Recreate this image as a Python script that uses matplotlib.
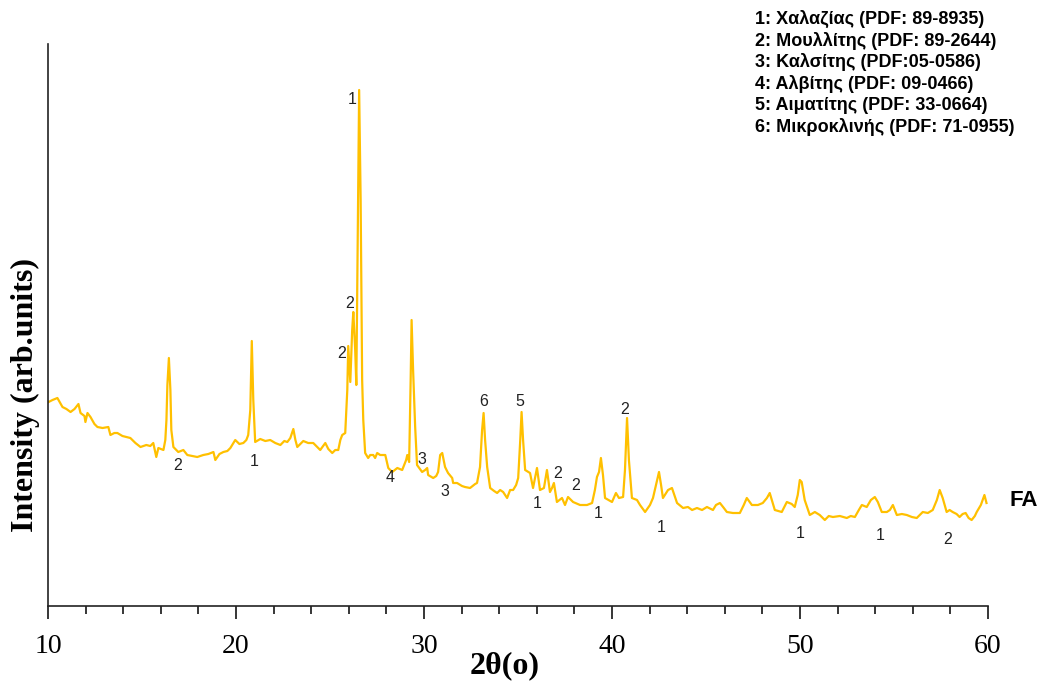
#!/usr/bin/env python3
"""
XRD pattern of fly ash (FA) with phase identification.
"""

import matplotlib.pyplot as plt
from matplotlib.ticker import MultipleLocator

# Diffraction pattern, 2theta (deg) vs intensity (arb. units)
two_theta = [
    10.03, 10.24, 10.50, 10.77, 10.98, 11.20, 11.41, 11.62, 11.73, 11.94, 11.99, 12.10, 12.26, 12.47, 12.63, 12.90, 13.21, 13.32,
    13.53, 13.69, 13.96, 14.17, 14.38, 14.65, 14.92, 15.23, 15.44, 15.60, 15.76, 15.87, 16.14, 16.24, 16.30, 16.35, 16.43, 16.51, 16.56,
    16.67, 16.93, 17.20, 17.41, 17.68, 17.94, 18.26, 18.53, 18.80, 18.90, 19.12, 19.33, 19.54, 19.70, 19.96, 20.18, 20.39, 20.55, 20.65,
    20.76, 20.84, 20.92, 21.02, 21.29, 21.56, 21.82, 22.09, 22.36, 22.57, 22.73, 22.89, 23.05, 23.16, 23.26, 23.42, 23.58, 23.84, 24.11,
    24.32, 24.48, 24.75, 24.91, 25.12, 25.28, 25.44,
    25.55, 25.65, 25.81, 25.92, 25.97, 26.08, 26.18, 26.24, 26.34, 26.40, 26.47, 26.55, 26.63, 26.71, 26.77, 26.87, 27.03, 27.14, 27.30,
    27.40, 27.51, 27.67, 27.94,
    28.10, 28.31, 28.58, 28.84, 29.05, 29.11, 29.21, 29.29, 29.34, 29.42, 29.53, 29.63, 29.90, 30.06, 30.17, 30.22, 30.49,
    30.65, 30.75, 30.86, 30.97, 31.12, 31.28, 31.50, 31.55, 31.76, 32.02, 32.18, 32.45, 32.72, 32.82, 32.98,
    33.09, 33.17, 33.25, 33.36, 33.52, 33.73, 33.89, 34.05, 34.21, 34.42, 34.58, 34.74, 34.90, 35.01, 35.12, 35.19, 35.27, 35.38,
    35.64, 35.80, 36.01, 36.17, 36.38, 36.54, 36.70, 36.81, 36.91, 37.07, 37.34, 37.50, 37.66, 37.93, 38.30, 38.67, 38.94, 39.09,
    39.20, 39.31, 39.41, 39.52, 39.63,
    40.00, 40.21, 40.37, 40.59, 40.69, 40.80, 40.90, 41.06, 41.33, 41.49, 41.76, 42.02, 42.18, 42.34, 42.50, 42.61, 42.71, 42.98,
    43.19, 43.46, 43.78,
    44.04, 44.26, 44.52, 44.79, 45.05, 45.37, 45.53, 45.74, 45.95, 46.11, 46.43, 46.80, 47.01, 47.17, 47.44, 47.76, 48.02, 48.24,
    48.39, 48.50, 48.66,
    49.03, 49.30, 49.56, 49.72, 49.88, 49.99, 50.09, 50.25, 50.52, 50.79, 51.05, 51.32, 51.53, 51.75, 52.12, 52.49, 52.70, 52.92,
    53.13, 53.29, 53.55, 53.77, 53.98, 54.14, 54.35, 54.62, 54.78, 54.94, 55.15, 55.42, 55.68, 55.95, 56.21, 56.37, 56.53,
    56.80, 57.06, 57.28, 57.43, 57.59, 57.80, 57.96, 58.12, 58.33, 58.49, 58.65, 58.81, 58.97, 59.13, 59.30, 59.40, 59.62, 59.81, 59.92,
]
intensity = [
    204, 206, 208, 199, 197, 194, 197, 202, 193, 190, 184, 193, 189, 182, 179, 178, 179, 171,
    173, 173, 170, 169, 168, 163, 159, 161, 160, 163, 149, 158, 156, 166, 186, 221, 248, 216, 176,
    159, 154, 156, 151, 150, 149, 151, 152, 154, 146, 152, 154, 155, 158, 166, 162, 163, 166, 171,
    196, 265, 206, 164, 167, 165, 166, 163, 161, 165, 164, 168, 177, 166, 159, 162, 165, 163, 163,
    159, 156, 163, 157, 153, 156, 156,
    166, 171, 173, 216, 260, 224, 276, 294, 256, 221, 356, 516, 406, 226, 186, 153, 148, 151, 151,
    148, 153, 151, 151,
    138, 134, 138, 136, 146, 151, 144, 226, 286, 236, 179, 141, 134, 136, 138, 131, 128,
    130, 134, 151, 153, 139, 133, 128, 123, 123, 120, 119, 118, 122, 123, 139,
    176, 193, 166, 139, 118, 115, 113, 116, 114, 108, 116, 116, 121, 128, 166, 194, 166, 136,
    133, 118, 138, 116, 118, 136, 114, 118, 123, 104, 108, 101, 109, 104, 101, 101, 103, 116,
    129, 134, 148, 131, 108,
    104, 113, 108, 109, 136, 188, 146, 108, 106, 101, 94, 101, 108, 121, 134, 121, 108, 116,
    118, 103, 98,
    99, 96, 98, 96, 99, 96, 101, 103, 98, 94, 93, 93, 101, 108, 101, 101, 103, 108,
    113, 106, 96,
    94, 104, 102, 99, 111, 126, 124, 106, 91, 94, 91, 86, 90, 89, 90, 88, 90, 89,
    96, 101, 99, 106, 109, 104, 94, 94, 96, 101, 91, 92, 91, 89, 88, 91, 94,
    93, 96, 106, 116, 108, 94, 96, 94, 92, 89, 92, 93, 88, 86, 90, 94, 101, 111, 103,
]

# Phase markers: label, 2theta, height
peak_ids = ['1', '2', '2', '2', '1', '4', '3', '3', '6', '5',
            '1', '2', '2', '1', '2', '1', '1', '1', '2']
peak_x = [26.18, 26.02, 25.60, 16.88, 20.97, 28.20, 29.90, 31.12, 33.19, 35.10,
          36.01, 37.13, 38.09, 39.25, 40.69, 42.60, 49.99, 54.24, 57.85]
peak_y = [507, 303, 252, 140, 144, 129, 147, 114, 204, 204,
          103, 133, 120, 92, 196, 78, 72, 70, 66]

phases = [
    '1: Χαλαζίας (PDF: 89-8935)',
    '2: Μουλλίτης (PDF: 89-2644)',
    '3: Καλσίτης (PDF:05-0586)',
    '4: Αλβίτης (PDF: 09-0466)',
    '5: Αιματίτης (PDF: 33-0664)',
    '6: Μικροκλινής (PDF: 71-0955)',
]

serif = ['Liberation Serif', 'DejaVu Serif']
sans = ['Liberation Sans', 'DejaVu Sans']

fig = plt.figure(figsize=(10.42, 6.84), dpi=100)
ax = fig.add_axes([48 / 1042, 1 - 606 / 684, 940 / 1042, 562 / 684])

ax.plot(two_theta, intensity, color='#FFC000', linewidth=1.6)

for lab, x, y in zip(peak_ids, peak_x, peak_y):
    ax.text(x, y, lab, ha='center', va='center', fontsize=11.5,
            family=sans, color='#222222')

ax.text(61.9, 105, 'FA', ha='center', va='center', fontsize=16,
        fontweight='bold', family=sans, clip_on=False)

ax.set_xlim(10, 60)
ax.set_ylim(0, 562)
ax.set_yticks([])
ax.xaxis.set_major_locator(MultipleLocator(10))
ax.xaxis.set_minor_locator(MultipleLocator(2))
ax.tick_params(axis='x', which='major', direction='out', length=9, width=1.1,
               pad=11, labelsize=20)
ax.tick_params(axis='x', which='minor', direction='out', length=6, width=1.1)
for t in ax.get_xticklabels():
    t.set_family(serif)

for side in ('top', 'right'):
    ax.spines[side].set_visible(False)
for side in ('left', 'bottom'):
    ax.spines[side].set_linewidth(1.2)
    ax.spines[side].set_color('#222222')

ax.set_xlabel('2θ(o)', fontsize=23, fontweight='bold', family=serif)
ax.xaxis.set_label_coords((505 - 48) / 940, (606 - 666) / 562)
ax.xaxis.label.set_va('center')

ax.set_ylabel('Intensity (arb.units)', fontsize=23, fontweight='bold', family=serif)
ax.yaxis.set_label_coords((25 - 48) / 940, (606 - 395) / 562)
ax.yaxis.label.set_va('center')

for i, line in enumerate(phases):
    fig.text(755 / 1042, 1 - (19 + 21.6 * i) / 684, line, ha='left', va='center',
             fontsize=13, fontweight='bold', family=sans)

plt.savefig('out.png', dpi=100)
plt.close()
